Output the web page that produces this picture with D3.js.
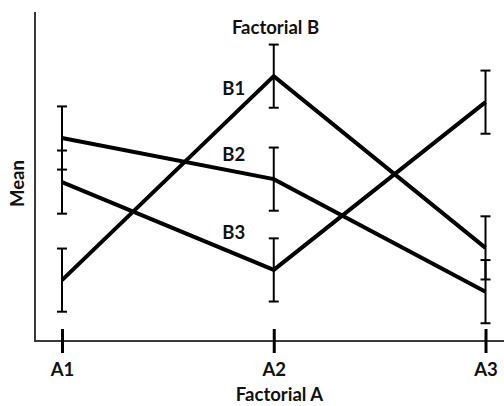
<!DOCTYPE html>
<html>
<head>
<meta charset="utf-8">
<script src="https://cdn.jsdelivr.net/npm/d3@7"></script>
<style>
  html, body { margin: 0; padding: 0; background: #fff; }
  svg text { font-family: Lato, "Open Sans", sans-serif; font-weight: 700; fill: #111; }
</style>
</head>
<body>
<svg id="chart" width="504" height="406"></svg>
<script>
// Levels of factor A and cell means for each level of factor B
const levelsA = ["A1", "A2", "A3"];
const seriesNames = ["B1", "B2", "B3"];
const meansB1 = [18.5, 80.5, 28.3];
const meansB2 = [61.7, 49.2, 15.0];
const meansB3 = [48.3, 21.6, 72.6];
const errorHalf = [9.6, 9.6, 9.6];

const series = [
  { name: "B1", values: meansB1 },
  { name: "B2", values: meansB2 },
  { name: "B3", values: meansB3 }
];

const svg = d3.select("#chart");
const axisX0 = 35, axisY0 = 341, axisTop = 12, axisRight = 504;
const fontSize = 18.5;

const x = d3.scalePoint().domain(levelsA).range([62, 485.5]);
const y = d3.scaleLinear().domain([0, 100]).range([axisY0, axisTop]);

// axes frame
svg.append("line")
  .attr("x1", axisX0).attr("x2", axisX0).attr("y1", axisTop).attr("y2", axisY0)
  .attr("stroke", "#3a3a3a").attr("stroke-width", 2);
svg.append("line")
  .attr("x1", axisX0 - 1).attr("x2", axisRight).attr("y1", axisY0).attr("y2", axisY0)
  .attr("stroke", "#3a3a3a").attr("stroke-width", 2);

// category ticks and labels on the x axis
const xAxis = d3.axisBottom(x).tickSize(0).tickPadding(0);
const gx = svg.append("g").attr("transform", `translate(0,${axisY0})`).call(xAxis);
gx.select(".domain").remove();
gx.selectAll(".tick line").remove();
gx.selectAll(".tick").append("line")
  .attr("y1", -12).attr("y2", 12)
  .attr("stroke", "#000").attr("stroke-width", 3);
gx.selectAll(".tick text")
  .attr("y", 35).attr("dy", null)
  .attr("font-size", null).attr("font-family", null).attr("fill", "#111")
  .style("font-size", fontSize + "px")
  .style("font-family", "Lato, 'Open Sans', sans-serif").style("font-weight", 700);

// error bars
const cap = 5;
series.forEach(s => {
  const g = svg.append("g");
  s.values.forEach((v, i) => {
    const cx = x(levelsA[i]);
    const lo = y(v - errorHalf[i]), hi = y(v + errorHalf[i]);
    g.append("line").attr("x1", cx).attr("x2", cx).attr("y1", hi).attr("y2", lo)
      .attr("stroke", "#000").attr("stroke-width", 2);
    [hi, lo].forEach(yy => g.append("line")
      .attr("x1", cx - cap).attr("x2", cx + cap).attr("y1", yy).attr("y2", yy)
      .attr("stroke", "#000").attr("stroke-width", 2));
  });
});

// mean lines
const line = d3.line().x((d, i) => x(levelsA[i])).y(d => y(d));
series.forEach(s => {
  svg.append("path").datum(s.values).attr("d", line)
    .attr("fill", "none").attr("stroke", "#000").attr("stroke-width", 4)
    .attr("stroke-linejoin", "miter");
});

// series labels
const labelX = x("A2") - 40;
const labelY = [95, 161, 239];
seriesNames.forEach((n, i) => {
  svg.append("text").attr("x", labelX).attr("y", labelY[i])
    .attr("text-anchor", "middle").attr("font-size", fontSize).text(n);
});

// titles
svg.append("text").attr("x", 275.5).attr("y", 34).attr("text-anchor", "middle")
  .attr("font-size", fontSize).text("Factorial B");
svg.append("text").attr("x", 279.5).attr("y", 401).attr("text-anchor", "middle")
  .attr("font-size", fontSize).text("Factorial A");
svg.append("text").attr("transform", "translate(24,183.5) rotate(-90)")
  .attr("text-anchor", "middle").attr("font-size", fontSize).text("Mean");
</script>
</body>
</html>
